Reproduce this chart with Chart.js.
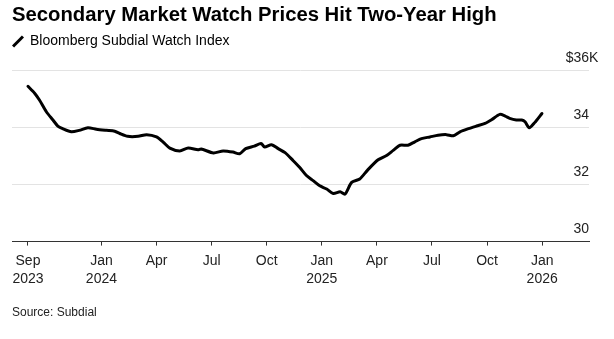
<!DOCTYPE html>
<html>
<head>
<meta charset="utf-8">
<script src="https://cdn.jsdelivr.net/npm/chart.js@4.4.1/dist/chart.umd.min.js"></script>
<style>
  body{margin:0;background:#fff;font-family:"Liberation Sans",Arial,sans-serif;color:#000;}
  #wrap{position:relative;width:614px;height:339px;overflow:hidden;}
  #c{position:absolute;left:0;top:0;}
  .title{position:absolute;left:12px;top:3px;font-size:20.3px;font-weight:700;}
  .legend{position:absolute;left:30px;top:32px;font-size:14px;}
  .swatch{position:absolute;left:11px;top:40px;width:14px;height:3px;background:#000;transform:rotate(-45deg);}
  .source{position:absolute;left:12px;top:305px;font-size:12px;color:#222;}
</style>
</head>
<body>
<div id="wrap">
  <canvas id="c" width="614" height="339"></canvas>
  <div class="title">Secondary Market Watch Prices Hit Two-Year High</div>
  <span class="swatch"></span>
  <div class="legend">Bloomberg Subdial Watch Index</div>
  <div class="source">Source: Subdial</div>
</div>
<script>
// index level in $K, sampled roughly twice a month
let dates = [
 "2023-09-01","2023-09-12","2023-09-20","2023-10-01","2023-10-12","2023-10-20","2023-10-28",
 "2023-11-12","2023-11-25","2023-12-09","2023-12-23","2024-01-09","2024-01-23","2024-02-01",
 "2024-02-14","2024-03-01","2024-03-15","2024-04-01","2024-04-12","2024-04-23","2024-05-09",
 "2024-05-23","2024-06-09","2024-06-14","2024-07-04","2024-07-20","2024-08-06","2024-08-17",
 "2024-08-27","2024-09-11","2024-09-22","2024-09-28","2024-10-09","2024-10-20","2024-11-01",
 "2024-11-14","2024-11-25","2024-12-06","2024-12-17","2024-12-28","2025-01-09","2025-01-20",
 "2025-02-01","2025-02-09","2025-02-20","2025-03-03","2025-03-16","2025-04-03","2025-04-17",
 "2025-04-28","2025-05-09","2025-05-22","2025-06-03","2025-06-14","2025-06-28","2025-07-11",
 "2025-07-25","2025-08-06","2025-08-17","2025-08-31","2025-09-14","2025-09-28","2025-10-09",
 "2025-10-22","2025-10-31","2025-11-08","2025-11-19","2025-11-28","2025-12-03","2025-12-10",
 "2025-12-19","2025-12-31"
];
let values = [
 35.43,35.19,34.95,34.54,34.25,34.04,33.95,
 33.84,33.89,33.98,33.93,33.89,33.86,33.78,
 33.68,33.68,33.74,33.66,33.48,33.27,33.17,
 33.27,33.21,33.24,33.10,33.17,33.13,33.07,
 33.25,33.34,33.43,33.31,33.39,33.25,33.11,
 32.84,32.60,32.31,32.13,31.95,31.84,31.68,
 31.74,31.66,32.07,32.19,32.50,32.86,33.01,
 33.19,33.37,33.37,33.49,33.60,33.66,33.72,
 33.74,33.70,33.84,33.95,34.04,34.13,34.27,
 34.45,34.39,34.31,34.25,34.25,34.19,33.98,
 34.16,34.48
];

// x axis runs in months counted from Sep 2023
let tickMonths = [0,4,7,10,13,16,19,22,25,28];
let tickLabels = [["Sep","2023"],["Jan","2024"],"Apr","Jul","Oct",["Jan","2025"],"Apr","Jul","Oct",["Jan","2026"]];
let yTicks = [30,32,34,36];

function toMonth(s){
    let [y,m,d]=s.split("-").map(Number);
    return (y-2023)*12+(m-9)+(d-1)/30.4;
}
let points = dates.map((d,i)=>({x:toMonth(d),y:values[i]}));

const FONT = "'Liberation Sans', Arial, sans-serif";
const LABEL_UP = -12;

// "$36" is aligned with the other numbers, the K hangs off to the right
let unitSuffix = {
    id:"unitSuffix",
    afterDraw(chart){
        let s=chart.scales.y, ctx=chart.ctx;
        ctx.save();
        ctx.font="14px "+FONT;
        ctx.fillStyle="#222";
        ctx.textAlign="left";
        ctx.textBaseline="middle";
        ctx.fillText("K", chart.chartArea.right, s.getPixelForValue(36)+LABEL_UP);
        ctx.restore();
    }
};

new Chart(document.getElementById("c"),{
    type:"line",
    data:{datasets:[{
        data:points,
        borderColor:"#000",
        borderWidth:3,
        pointRadius:0,
        tension:0.25,
        borderCapStyle:"round",
        borderJoinStyle:"round"
    }]},
    options:{
        responsive:false,
        devicePixelRatio:1,
        animation:false,
        layout:{padding:{left:12,right:25,top:70,bottom:45}},
        plugins:{legend:{display:false},tooltip:{enabled:false}},
        scales:{
            x:{
                type:"linear",
                min:-0.87, max:30.55,
                afterBuildTicks(scale){ scale.ticks=tickMonths.map(v=>({value:v})); },
                grid:{display:true,drawOnChartArea:false,drawTicks:true,tickLength:4,color:"#333",lineWidth:1},
                border:{display:true,color:"#333",width:1},
                ticks:{
                    autoSkip:false,maxRotation:0,padding:6,color:"#222",
                    font:{family:FONT,size:14,lineHeight:1.3},
                    callback:(v,i)=>tickLabels[i]
                }
            },
            y:{
                position:"right",
                min:30, max:36,
                afterBuildTicks(scale){ scale.ticks=yTicks.map(v=>({value:v})); },
                grid:{color:"#e3e3e3",lineWidth:1,drawTicks:false},
                border:{display:false},
                ticks:{
                    mirror:true,padding:0,labelOffset:LABEL_UP,color:"#222",
                    font:{family:FONT,size:14},
                    callback:v=>v===36?"$36":String(v)
                }
            }
        }
    },
    plugins:[unitSuffix]
});
</script>
</body>
</html>
